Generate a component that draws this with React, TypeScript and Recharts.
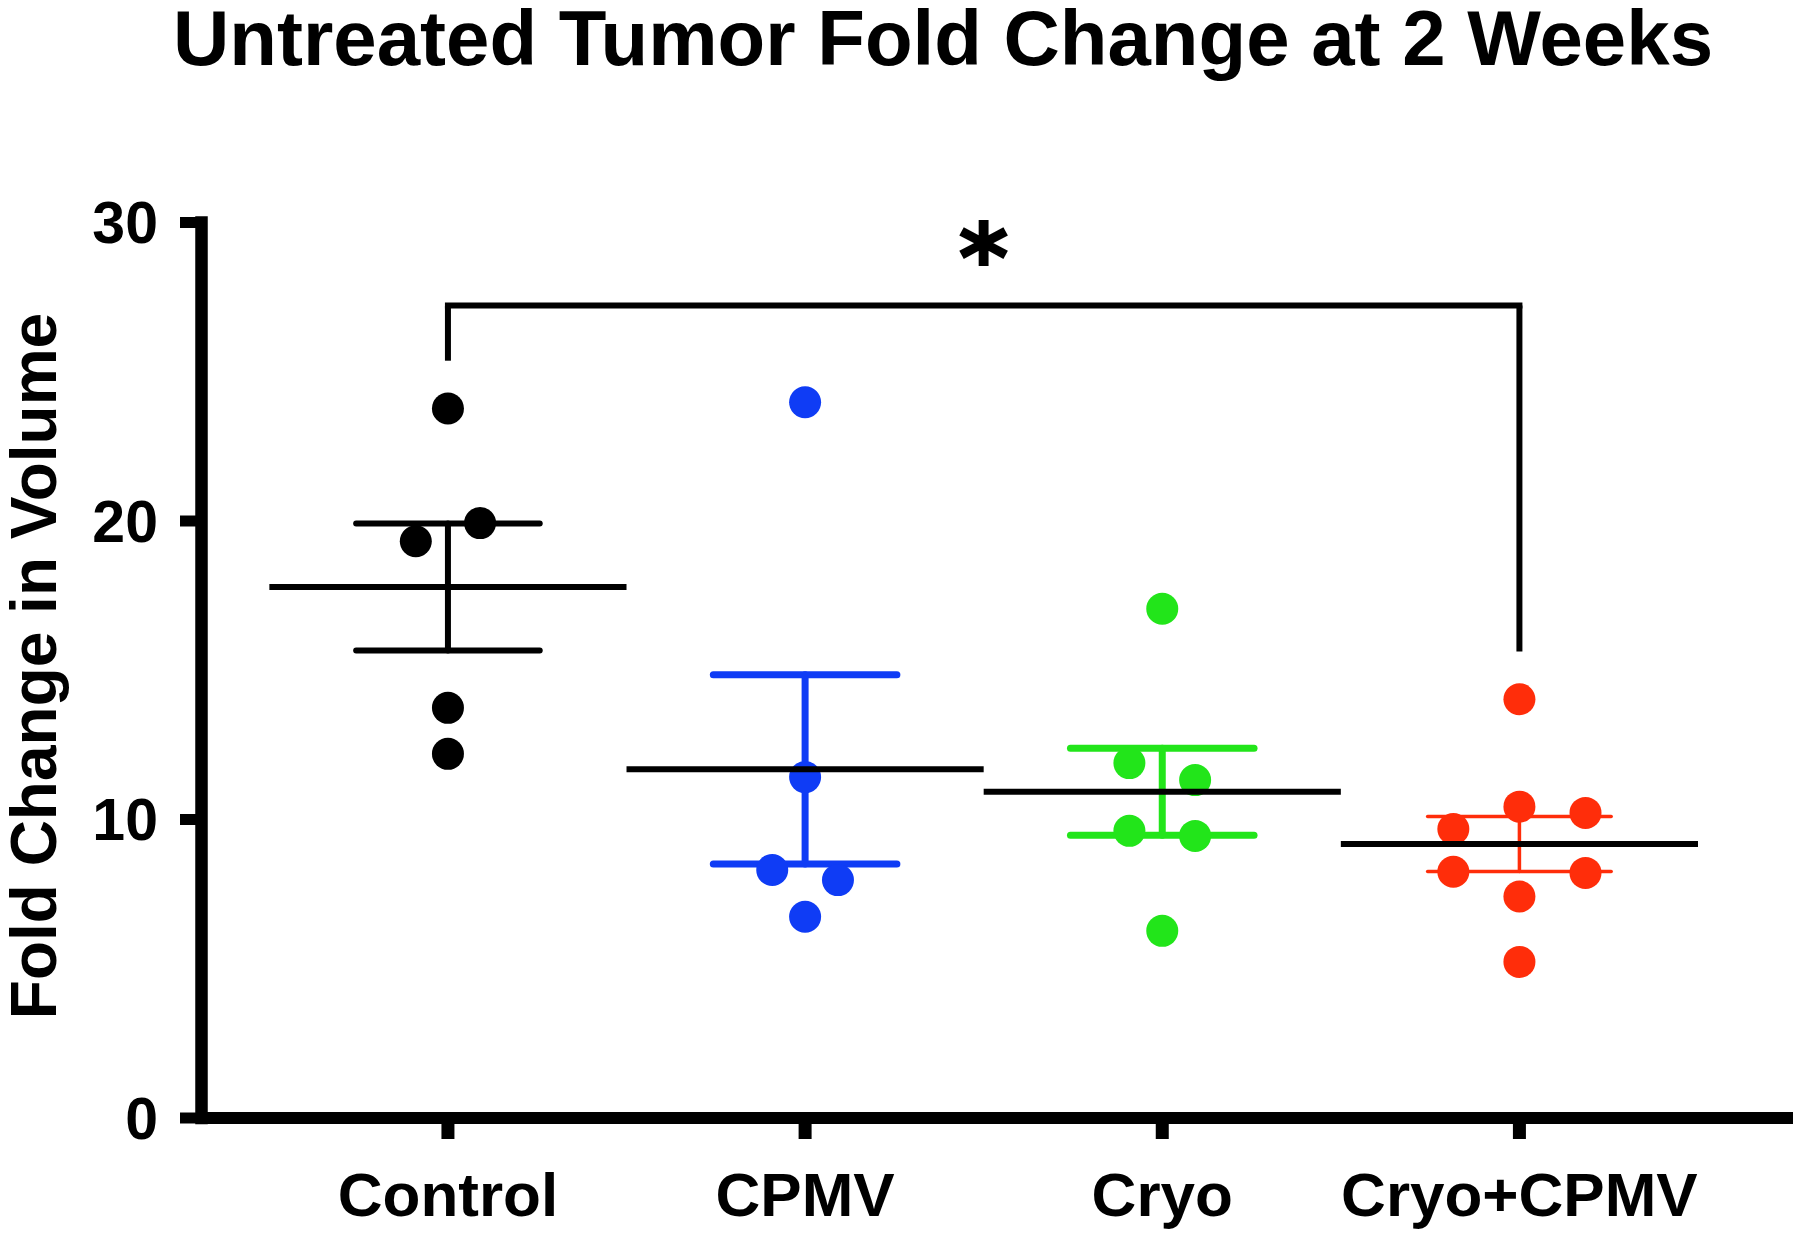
import React from "react";
import {
  ScatterChart,
  Scatter,
  XAxis,
  YAxis,
  ReferenceLine,
} from "recharts";

const categories = ["Control", "CPMV", "Cryo", "Cryo+CPMV"];
const colors = ["#000000", "#0f3cf5", "#22e51a", "#ff2d0a"];

// individual animals, with horizontal scatter offset (category units)
const controlValues = [23.77, 19.32, 19.93, 13.74, 12.2];
const controlOffsets = [0, -0.09, 0.09, 0, 0];
const cpmvValues = [23.98, 11.42, 8.31, 7.97, 6.74];
const cpmvOffsets = [0, 0, -0.092, 0.092, 0];
const cryoValues = [17.06, 11.89, 11.32, 9.62, 9.45, 6.27];
const cryoOffsets = [0, -0.092, 0.092, -0.092, 0.092, 0];
const comboValues = [14.03, 10.43, 10.22, 9.68, 8.25, 8.21, 7.42, 5.23];
const comboOffsets = [0, 0, 0.185, -0.185, -0.185, 0.185, 0, 0];

// mean and SEM per group
const means = [17.79, 11.68, 10.93, 9.18];
const sems = [2.13, 3.17, 1.46, 0.92];

const yTicks = [0, 10, 20, 30];
const xTicks = [0, 1, 2, 3];

// significance bracket: Control vs Cryo+CPMV
const bracket = { from: 0, to: 3, top: 27.22, leftEnd: 25.37, rightEnd: 15.63, label: "*", labelY: 29.2 };

const FONT = "'Liberation Sans', Arial, Helvetica, sans-serif";

const groups = [
  { values: controlValues, offsets: controlOffsets },
  { values: cpmvValues, offsets: cpmvOffsets },
  { values: cryoValues, offsets: cryoOffsets },
  { values: comboValues, offsets: comboOffsets },
];

const errWidths = [6, 7, 7, 3.5];

function Dot(color: string) {
  return (p: any) => <circle cx={p.cx} cy={p.cy} r={16} fill={color} />;
}

function Star(p: any) {
  return (
    <text
      x={p.cx}
      y={p.cy + 45}
      textAnchor="middle"
      fontSize={95}
      fontWeight="bold"
      fontFamily="'DejaVu Sans', sans-serif"
      fill="#000"
      stroke="#000"
      strokeWidth={2}
    >
      {bracket.label}
    </text>
  );
}

function YTitle() {
  return (
    <text
      transform="translate(56, 666) rotate(-90)"
      textAnchor="middle"
      fontSize={64}
      fontWeight="bold"
      fontFamily={FONT}
      fill="#000"
    >
      Fold Change in Volume
    </text>
  );
}

export default function App() {
  const errorBars = means.flatMap((m, i) => {
    const lo = m - sems[i];
    const hi = m + sems[i];
    const common = {
      stroke: colors[i],
      strokeWidth: errWidths[i],
      strokeLinecap: "round" as const,
      ifOverflow: "visible" as const,
      zIndex: 550,
    };
    return [
      <ReferenceLine key={`s${i}`} segment={[{ x: i, y: lo }, { x: i, y: hi }]} {...common} />,
      <ReferenceLine key={`h${i}`} segment={[{ x: i - 0.257, y: hi }, { x: i + 0.257, y: hi }]} {...common} />,
      <ReferenceLine key={`l${i}`} segment={[{ x: i - 0.257, y: lo }, { x: i + 0.257, y: lo }]} {...common} />,
    ];
  });

  const meanLines = means.map((m, i) => (
    <ReferenceLine
      key={`m${i}`}
      segment={[{ x: i - 0.5, y: m }, { x: i + 0.5, y: m }]}
      stroke="#000"
      strokeWidth={6}
      ifOverflow="visible"
      zIndex={650}
    />
  ));

  const bracketProps = {
    stroke: "#000",
    strokeWidth: 6,
    ifOverflow: "visible" as const,
    zIndex: 650,
  };

  return (
    <div
      style={{
        position: "absolute",
        left: 0,
        top: 0,
        width: 1800,
        height: 1235,
        background: "#fff",
        fontFamily: FONT,
      }}
    >
      <div
        style={{
          position: "absolute",
          left: 0,
          top: 0,
          width: 1886,
          textAlign: "center",
          fontSize: 78,
          lineHeight: "76px",
          fontWeight: "bold",
          color: "#000",
        }}
      >
        Untreated Tumor Fold Change at 2 Weeks
      </div>
      <ScatterChart
        width={1800}
        height={1235}
        margin={{ top: 222.5, right: 7, bottom: 0, left: 0 }}
      >
        <XAxis
          type="number"
          dataKey="x"
          domain={[-0.69, 3.766]}
          ticks={xTicks}
          allowDataOverflow
          height={117}
          tickFormatter={(v: number) => categories[v] ?? ""}
          axisLine={{ stroke: "#000", strokeWidth: 12 }}
          tickLine={{ stroke: "#000", strokeWidth: 13 }}
          tickSize={21}
          tickMargin={33}
          tick={{ fill: "#000", fontSize: 62, fontWeight: "bold", fontFamily: FONT }}
          interval={0}
        />
        <YAxis
          type="number"
          dataKey="y"
          domain={[0, 30]}
          ticks={yTicks}
          width={201.5}
          axisLine={{ stroke: "#000", strokeWidth: 12.5, strokeLinecap: "square" }}
          tickLine={{ stroke: "#000", strokeWidth: 11 }}
          tickSize={21.5}
          tickMargin={22}
          tick={{ fill: "#000", fontSize: 59, fontWeight: "bold", fontFamily: FONT }}
          interval={0}
          label={{ content: () => <YTitle /> }}
        />
        {errorBars}
        {groups.map((g, i) => (
          <Scatter
            key={categories[i]}
            name={categories[i]}
            data={g.values.map((v, j) => ({ x: i + g.offsets[j], y: v }))}
            shape={Dot(colors[i])}
            isAnimationActive={false}
          />
        ))}
        {meanLines}
        <ReferenceLine
          segment={[{ x: bracket.from, y: bracket.leftEnd }, { x: bracket.from, y: bracket.top }]}
          {...bracketProps}
        />
        <ReferenceLine
          segment={[{ x: bracket.from, y: bracket.top }, { x: bracket.to, y: bracket.top }]}
          {...bracketProps}
          strokeLinecap="square"
        />
        <ReferenceLine
          segment={[{ x: bracket.to, y: bracket.top }, { x: bracket.to, y: bracket.rightEnd }]}
          {...bracketProps}
        />
        <Scatter
          data={[{ x: (bracket.from + bracket.to) / 2, y: bracket.labelY }]}
          shape={Star}
          isAnimationActive={false}
        />
      </ScatterChart>
    </div>
  );
}
